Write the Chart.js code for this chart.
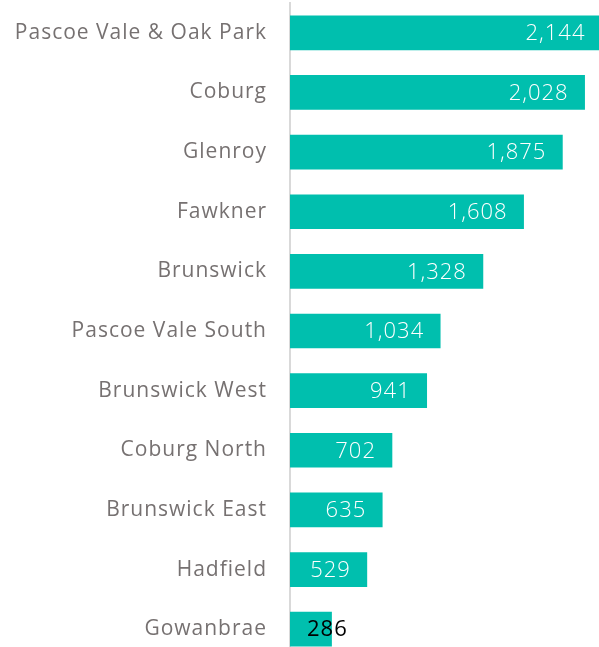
<!DOCTYPE html>
<html>
<head>
<meta charset="utf-8">
<script src="https://cdn.jsdelivr.net/npm/chart.js@4"></script>
<style>
  html, body { margin: 0; padding: 0; background: #fff; overflow: hidden; }
  #wrap { width: 599px; height: 659px; }
</style>
</head>
<body>
<div id="wrap"><canvas id="myChart"></canvas></div>
<script>
const suburbs = ['Pascoe Vale & Oak Park', 'Coburg', 'Glenroy', 'Fawkner', 'Brunswick',
  'Pascoe Vale South', 'Brunswick West', 'Coburg North', 'Brunswick East', 'Hadfield', 'Gowanbrae'];
const counts = [2144, 2028, 1875, 1608, 1328, 1034, 941, 702, 635, 529, 286];
const labelColours = ['#fff', '#fff', '#fff', '#fff', '#fff', '#fff', '#fff', '#fff', '#fff', '#fff', '#000'];

// wider spacing for the tick labels (reference font is a wide rounded sans)
const spacing = {
  id: 'spacing',
  beforeDraw(chart) {
    chart.ctx.letterSpacing = '1px';
  }
};

// value labels near the end of each bar
const valueLabels = {
  id: 'valueLabels',
  afterDatasetsDraw(chart) {
    const ctx = chart.ctx;
    const meta = chart.getDatasetMeta(0);
    ctx.save();
    ctx.letterSpacing = '1px';
    ctx.textAlign = 'right';
    ctx.textBaseline = 'middle';
    meta.data.forEach(function(bar, i) {
      const txt = counts[i].toLocaleString('en-US');
      // dark labels (outside the bar) are drawn a bit heavier
      ctx.font = (labelColours[i] === '#000' ? '400' : '300') + ' 22px "Open Sans"';
      const w = ctx.measureText(txt).width;
      const x = Math.max(bar.x - 16, bar.base + 17 + w);
      ctx.fillStyle = labelColours[i];
      ctx.fillText(txt, x, bar.y + 1);
    });
    ctx.restore();
  }
};

const data = {
  labels: suburbs,
  datasets: [{
    data: counts,
    backgroundColor: '#00bfae',
    borderWidth: 0,
    barThickness: 34
  }]
};

const config = {
  type: 'bar',
  data: data,
  options: {
    indexAxis: 'y',
    responsive: true,
    maintainAspectRatio: false,
    animation: false,
    layout: { padding: { top: 3, right: 0, bottom: 0, left: 0 } },
    plugins: {
      legend: { display: false },
      tooltip: { enabled: false }
    },
    scales: {
      x: {
        display: false,
        min: 0,
        max: 2127
      },
      y: {
        grid: { display: false, drawTicks: false },
        border: { display: true, color: '#d9d9d9', width: 2 },
        ticks: {
          color: '#767171',
          padding: 23,
          font: { family: '"Open Sans"', size: 21 }
        },
        afterFit: function(scale) {
          scale.width = 290;
          scale.paddingTop = 0;
          scale.paddingBottom = 0;
        }
      }
    }
  },
  plugins: [spacing, valueLabels]
};

const ctx = document.getElementById('myChart').getContext('2d');
const myChart = new Chart(ctx, config);
</script>
</body>
</html>
